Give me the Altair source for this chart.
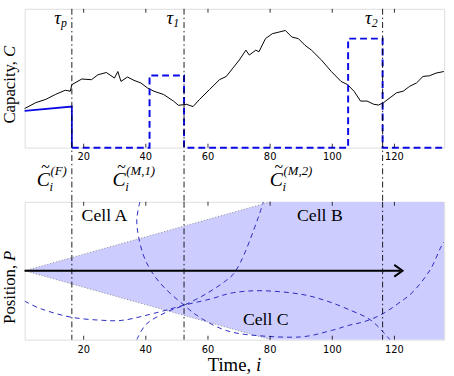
import altair as alt
import pandas as pd

# ---------------- data ----------------
# top panel: capacity trace
cap_t = [1.0, 4.6, 7.8, 10.9, 14.1, 15.7, 16.2, 19.4, 22.5, 24.6, 27.3, 29.9, 31.0, 32.0, 34.1,
         36.2, 38.4, 40.5, 42.6, 45.7, 48.9, 50.5, 53.1, 55.2, 57.3, 60.5, 63.7, 65.9, 68.0, 70.1,
         72.2, 73.3, 75.4, 76.4, 78.5, 80.7, 82.8, 84.9, 87.0, 89.1, 91.2, 93.3, 96.5, 99.7, 102.8,
         104.9, 107.0, 109.1, 111.2, 113.4, 114.9, 116.5, 118.6, 120.7, 122.8, 124.9, 127.1, 129.2,
         131.3, 133.4, 135.9]
cap_c = [39.7, 45.7, 49.0, 54.0, 58.3, 57.3, 64.0, 69.7, 69.0, 74.0, 76.3, 70.7, 77.3, 67.3, 71.7,
         68.3, 65.7, 60.7, 57.3, 54.0, 47.3, 43.0, 44.0, 41.7, 49.0, 59.0, 69.0, 72.3, 80.7, 89.0,
         99.0, 94.0, 99.0, 97.3, 110.7, 115.7, 117.3, 119.0, 112.3, 110.7, 104.0, 99.0, 89.0, 77.3, 67.3,
         64.0, 57.3, 47.3, 47.3, 44.0, 43.3, 45.7, 50.7, 55.7, 57.3, 62.3, 65.7, 72.3,
         73.0, 75.7, 77.3]
fav_t = [1.0, 16.2, 16.2]
fav_c = [37.3, 41.7, 0.0]
mig_t = [16.2, 41.2, 41.2, 52.3, 52.3, 105.1, 105.1, 116.2, 116.2, 136.0]
mig_c = [0.0, 0.0, 73.3, 73.3, 0.0, 0.0, 110.7, 110.7, 0.0, 0.0]
tau_t = [16.2, 52.3, 116.2]
tau_sub = ["p", "1", "2"]
tick_vals = [20, 40, 60, 80, 100, 120]
tick_labels = ["20", "40", "60", "80", "100", "120"]
est_t = [4.9, 29.3, 79.9]
est_sup = ["(F)", "(M,1)", "(M,2)"]
ytitle_top = ["Capacity,", "C"]
ytitle_bot = ["Position,", "P"]
xtitle_bot = ["Time,", "i"]

# bottom panel
cone_t = [1.0, 80.2, 136.0]
cone_hi = [0.0, 1.0, 1.0]
cone_lo = [0.0, -1.0, -1.0]
arrow_t = [1.0, 122.0]
head_t = [122.6]
cell_names = ["Cell A", "Cell B", "Cell C"]
cell_t = [26.7, 96.0, 78.6]
cell_p = [0.80, 0.80, -0.71]
a_t = [38.1, 37.1, 37.6, 39.2, 41.8, 46.0, 52.3, 58.2, 66.1, 75.6, 89.8, 99.8, 105.1, 110.4,
       115.7, 120.9, 126.2, 131.5, 134.7, 136.0]
a_p = [1.0, 0.75, 0.51, 0.23, -0.01, -0.247, -0.50, -0.70, -0.87, -0.94, -0.96, -0.865, -0.794,
       -0.737, -0.637, -0.485, -0.295, 0.014, 0.32, 0.42]
b_t = [37.1, 40.25, 46.6, 52.3, 59.2, 65.6, 68.8, 72.0, 75.6, 77.2, 77.8]
b_p = [-1.0, -0.77, -0.60, -0.50, -0.34, -0.15, -0.01, 0.275, 0.70, 0.91, 1.0]
c_t = [1.0, 6.5, 16.0, 26.5, 33.4, 43.9, 52.3, 60.8, 68.2, 77.7, 89.8, 98.3, 106.2, 112.5,
       117.8, 118.4]
c_p = [-0.44, -0.556, -0.674, -0.72, -0.713, -0.603, -0.50, -0.41, -0.318, -0.29, -0.34, -0.44,
       -0.58, -0.72, -0.96, -1.0]

# ---------------- layout constants ----------------
W, H1, H2, GAP = 426, 141, 140, 55
SERIF = "Liberation Serif"
BLUE = "#0a0ae6"
DBLUE = "#2a2ac0"

xscale = alt.Scale(domain=[1, 136], nice=False, zero=False)

yt = alt.Scale(domain=[0, 141], nice=False, zero=False)
yb = alt.Scale(domain=[-1, 1], nice=False, zero=False)
XT = alt.X("t:Q", scale=xscale, axis=None)

cap_df = pd.DataFrame({"t": cap_t, "c": cap_c})
fav_df = pd.DataFrame({"t": fav_t, "c": fav_c, "i": range(len(fav_t))})
mig_df = pd.DataFrame({"t": mig_t, "c": mig_c, "i": range(len(mig_t))})
tau_df = pd.DataFrame({"t": tau_t, "sub": tau_sub, "tau": ["τ"] * len(tau_t)})
tick_df = pd.DataFrame({"t": tick_vals, "lab": tick_labels})
top_tick_df = pd.DataFrame({"t": tick_vals, "lab": tick_labels, "panel": ["top"] * len(tick_vals)})
est_df = pd.DataFrame({"t": est_t, "sup": est_sup, "C": ["C"] * 3, "til": ["~"] * 3, "i": ["i"] * 3})
one = pd.DataFrame({"t": [1.0]})


def tick_rules(h):
    bot = alt.Chart(tick_df).mark_rule(color="black", strokeWidth=0.8).encode(
        x=XT, y=alt.value(h), y2=alt.value(h - 4))
    topr = alt.Chart(tick_df).mark_rule(color="black", strokeWidth=0.8).encode(
        x=XT, y=alt.value(0), y2=alt.value(4))
    return [bot, topr]


def tick_text(df, ypix, color="black"):
    return alt.Chart(df).mark_text(font="DejaVu Sans", fontSize=10, color=color,
                                   align="center", baseline="middle").encode(
        x=XT, y=alt.value(ypix), text="lab:N")


# ---------------- top panel ----------------
cap_line = alt.Chart(cap_df).mark_line(color="black", strokeWidth=1).encode(
    x=XT, y=alt.Y("c:Q", scale=yt, axis=None))
fav_line = alt.Chart(fav_df).mark_line(color=BLUE, strokeWidth=1.8).encode(
    x=XT, y=alt.Y("c:Q", scale=yt, axis=None), order="i:Q")
mig_line = alt.Chart(mig_df).mark_line(color=BLUE, strokeWidth=2, strokeDash=[7, 4]).encode(
    x=XT, y=alt.Y("c:Q", scale=yt, axis=None), order="i:Q")
tau_rule = alt.Chart(tau_df).mark_rule(color="black", strokeWidth=0.9,
                                       strokeDash=[6, 3, 1.5, 3]).encode(
    x=XT, y=alt.value(0), y2=alt.value(H1 + GAP))
tau_txt = alt.Chart(tau_df).mark_text(font=SERIF, fontSize=19, fontStyle="italic", align="right",
                                      baseline="alphabetic", dx=-11).encode(
    x=XT, y=alt.value(15), text="tau:N")
tau_subtxt = alt.Chart(tau_df).mark_text(font=SERIF, fontSize=12, fontStyle="italic", align="left",
                                         baseline="alphabetic", dx=-11).encode(
    x=XT, y=alt.value(18), text="sub:N")
est_C = alt.Chart(est_df).mark_text(font=SERIF, fontSize=20, fontStyle="italic", align="left",
                                    baseline="alphabetic").encode(
    x=XT, y=alt.value(180), text="C:N")
est_til = alt.Chart(est_df).mark_text(font=SERIF, fontSize=16, align="center",
                                      baseline="middle", dx=9).encode(
    x=XT, y=alt.value(161), text="til:N")
est_i = alt.Chart(est_df).mark_text(font=SERIF, fontSize=13, fontStyle="italic", align="left",
                                    baseline="alphabetic", dx=13).encode(
    x=XT, y=alt.value(185), text="i:N")
est_sup_t = alt.Chart(est_df).mark_text(font=SERIF, fontSize=13, fontStyle="italic", align="left",
                                        baseline="alphabetic", dx=14).encode(
    x=XT, y=alt.value(169), text="sup:N")
yt1 = alt.Chart(one).mark_text(font=SERIF, fontSize=17, angle=270, align="right",
                               baseline="alphabetic").encode(
    x=alt.value(-10), y=alt.value(53), text=alt.value(ytitle_top[0]))
yt2 = alt.Chart(one).mark_text(font=SERIF, fontSize=17, angle=270, align="left", fontStyle="italic",
                               baseline="alphabetic").encode(
    x=alt.value(-10), y=alt.value(49), text=alt.value(ytitle_top[1]))

top = alt.layer(cap_line, fav_line, mig_line, tau_rule, tau_txt, tau_subtxt,
                est_C, est_til, est_i, est_sup_t, yt1, yt2,
                *tick_rules(H1), tick_text(top_tick_df, H1 + 10)
                ).properties(width=W, height=H1)

# ---------------- bottom panel ----------------
cone_df = pd.DataFrame({"t": cone_t, "hi": cone_hi, "lo": cone_lo})
edge_df = pd.DataFrame({"t": cone_t[:2] * 2, "p": cone_hi[:2] + cone_lo[:2],
                        "side": ["u", "u", "l", "l"]})
arrow_df = pd.DataFrame({"t": arrow_t, "p": [0.0, 0.0]})
head_df = pd.DataFrame({"t": head_t, "p": [0.0]})
cell_df = pd.DataFrame({"t": cell_t, "p": cell_p, "name": cell_names})
rows = []
for name, ts, ps in (("a", a_t, a_p), ("b", b_t, b_p), ("c", c_t, c_p)):
    for k, (tv, pv) in enumerate(zip(ts, ps)):
        rows.append({"curve": name, "i": k, "t": tv, "p": pv})
curve_df = pd.DataFrame(rows)

cone = alt.Chart(cone_df).mark_area(color="#ccccff", opacity=1, clip=True).encode(
    x=XT, y=alt.Y("hi:Q", scale=yb, axis=None), y2="lo:Q")
edges = alt.Chart(edge_df).mark_line(color="#777777", strokeWidth=0.8, strokeDash=[1, 2]).encode(
    x=XT, y=alt.Y("p:Q", scale=yb, axis=None), detail="side:N")
curves = alt.Chart(curve_df).mark_line(color=DBLUE, strokeWidth=1, strokeDash=[5, 4],
                                       interpolate="cardinal", clip=True).encode(
    x=XT, y=alt.Y("p:Q", scale=yb, axis=None), detail="curve:N", order="i:Q")
tau_rule_b = alt.Chart(tau_df).mark_rule(color="black", strokeWidth=0.9,
                                         strokeDash=[6, 3, 1.5, 3]).encode(
    x=XT, y=alt.value(0), y2=alt.value(H2))
arrow = alt.Chart(arrow_df).mark_line(color="black", strokeWidth=2).encode(
    x=XT, y=alt.Y("p:Q", scale=yb, axis=None))
head = alt.Chart(head_df).mark_point(shape="M-1.2,-0.85L0,0L-1.2,0.85", filled=False, size=196,
                                     strokeWidth=2, color="black", opacity=1).encode(
    x=XT, y=alt.Y("p:Q", scale=yb, axis=None))
cells = alt.Chart(cell_df).mark_text(font=SERIF, fontSize=18, align="center",
                                     baseline="middle").encode(
    x=XT, y=alt.Y("p:Q", scale=yb, axis=None), text="name:N")
yb1 = alt.Chart(one).mark_text(font=SERIF, fontSize=17, angle=270, align="right",
                               baseline="alphabetic").encode(
    x=alt.value(-10), y=alt.value(64), text=alt.value(ytitle_bot[0]))
yb2 = alt.Chart(one).mark_text(font=SERIF, fontSize=17, angle=270, align="left", fontStyle="italic",
                               baseline="alphabetic").encode(
    x=alt.value(-10), y=alt.value(60), text=alt.value(ytitle_bot[1]))
xb1 = alt.Chart(one).mark_text(font=SERIF, fontSize=19, align="right",
                               baseline="alphabetic").encode(
    x=alt.value(230), y=alt.value(172), text=alt.value(xtitle_bot[0]))
xb2 = alt.Chart(one).mark_text(font=SERIF, fontSize=19, align="left", fontStyle="italic",
                               baseline="alphabetic").encode(
    x=alt.value(235), y=alt.value(172), text=alt.value(xtitle_bot[1]))

bottom = alt.layer(cone, edges, curves, tau_rule_b, arrow, head, cells,
                   yb1, yb2, xb1, xb2, *tick_rules(H2),
                   tick_text(tick_df, H2 + 11)).properties(width=W, height=H2)

chart = alt.vconcat(top, bottom, spacing=GAP, bounds="flush").properties(
    padding={"left": 0, "top": 5, "right": 5, "bottom": 0}
).configure_view(stroke="black", strokeWidth=1.2).configure(background="white")

chart.save("out.html", embed_options={"renderer": "svg", "actions": False})
